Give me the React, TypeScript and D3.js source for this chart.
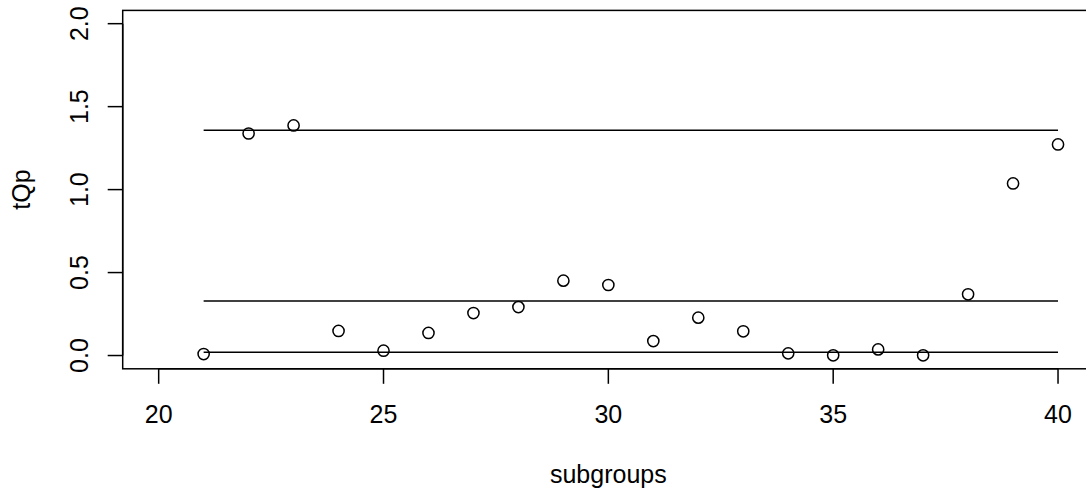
import React, { useRef, useEffect } from 'react'
import { scaleLinear, select, line } from 'd3'

const subgroups = [21, 22, 23, 24, 25, 26, 27, 28, 29, 30, 31, 32, 33, 34, 35, 36, 37, 38, 39, 40]
const tQp = [0.009, 1.338, 1.387, 0.148, 0.029, 0.136, 0.256, 0.292, 0.451, 0.425,
  0.087, 0.228, 0.146, 0.013, 0.001, 0.037, 0.001, 0.369, 1.037, 1.272]
const limits = [1.358, 0.328, 0.019]
const xTicks = [20, 25, 30, 35, 40]
const yTicks = [0, 0.5, 1, 1.5, 2]

export default function App() {
  const canvas = useRef<SVGSVGElement>(null)

  const W = 1086
  const H = 491
  const margin = { top: 10.4, left: 122.7, bottom: 122.2, right: -8 }
  const font = '"Liberation Sans", Arial, sans-serif'

  useEffect(() => {
    const svg = select(canvas.current)
    svg.selectAll('*').remove()

    const x = scaleLinear().domain([19.2, 40.8]).range([margin.left, W - margin.right])
    const y = scaleLinear().domain([-0.08, 2.08]).range([H - margin.bottom, margin.top])
    const bottom = H - margin.bottom

    // limit lines
    const lineG = line<number[]>().x(d => x(d[0])).y(d => y(d[1]))
    limits.forEach(v => {
      svg.append('path')
        .attr('d', lineG([[subgroups[0], v], [subgroups[subgroups.length - 1], v]]))
        .attr('stroke', '#000').attr('stroke-width', 1.5).attr('fill', 'none')
    })

    // points
    svg.selectAll('circle.pt').data(subgroups).enter().append('circle')
      .attr('class', 'pt')
      .attr('cx', d => x(d))
      .attr('cy', (d, i) => y(tQp[i]))
      .attr('r', 5.6)
      .attr('fill', 'none').attr('stroke', '#000').attr('stroke-width', 1.5)

    // box
    svg.append('rect')
      .attr('x', margin.left).attr('y', margin.top)
      .attr('width', W - margin.right - margin.left).attr('height', bottom - margin.top)
      .attr('fill', 'none').attr('stroke', '#000').attr('stroke-width', 1.5)

    // x axis
    const xa = svg.append('g')
    xa.append('line').attr('x1', x(20)).attr('x2', x(40)).attr('y1', bottom).attr('y2', bottom)
      .attr('stroke', '#000').attr('stroke-width', 1.5)
    xTicks.forEach(t => {
      xa.append('line').attr('x1', x(t)).attr('x2', x(t)).attr('y1', bottom).attr('y2', bottom + 15)
        .attr('stroke', '#000').attr('stroke-width', 1.5)
      xa.append('text').attr('x', x(t)).attr('y', bottom + 54).attr('text-anchor', 'middle')
        .attr('font-family', font).attr('font-size', 25).text(String(t))
    })

    // y axis
    const ya = svg.append('g')
    ya.append('line').attr('x1', margin.left).attr('x2', margin.left).attr('y1', y(0)).attr('y2', y(2))
      .attr('stroke', '#000').attr('stroke-width', 1.5)
    yTicks.forEach(t => {
      ya.append('line').attr('x1', margin.left - 15).attr('x2', margin.left).attr('y1', y(t)).attr('y2', y(t))
        .attr('stroke', '#000').attr('stroke-width', 1.5)
      ya.append('text').attr('transform', `translate(${margin.left - 34.7},${y(t)}) rotate(-90)`)
        .attr('text-anchor', 'middle')
        .attr('font-family', font).attr('font-size', 25).text(t.toFixed(1))
    })

    // axis titles
    svg.append('text').attr('x', (margin.left + W - margin.right) / 2).attr('y', bottom + 114)
      .attr('text-anchor', 'middle').attr('font-family', font).attr('font-size', 25).text('subgroups')
    svg.append('text')
      .attr('transform', `translate(${margin.left - 92.7},${(margin.top + bottom) / 2}) rotate(-90)`)
      .attr('text-anchor', 'middle').attr('font-family', font).attr('font-size', 25).text('tQp')
  })

  return (
    <svg ref={canvas} width={W} height={H}
      style={{ position: 'absolute', left: 0, top: 0, background: '#fff' }} />
  )
}
